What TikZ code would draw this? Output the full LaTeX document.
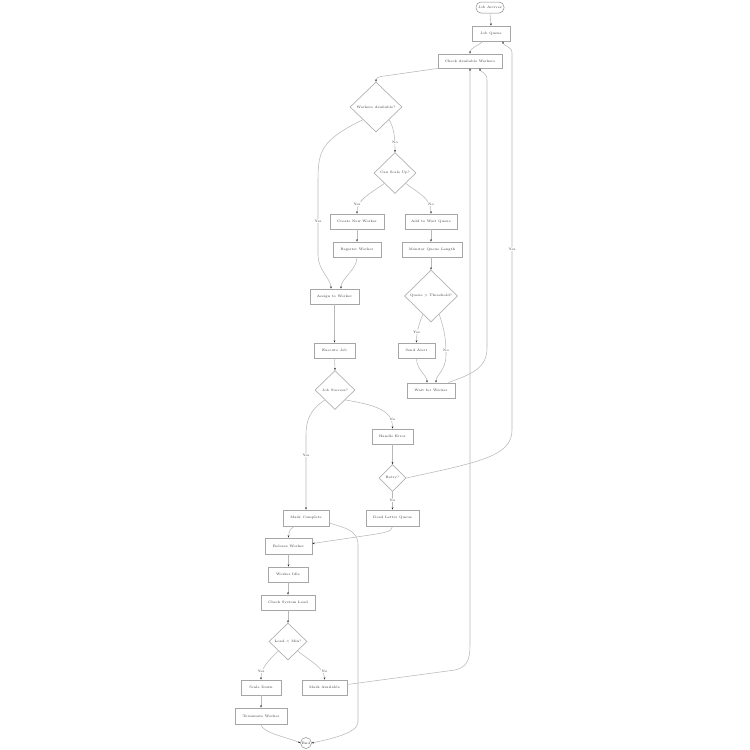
\documentclass[tikz,border=0pt]{standalone}
\usetikzlibrary{shapes.geometric,arrows.meta,calc}
\begin{document}
\begin{tikzpicture}[x=1pt,y=-1pt,
  every node/.style={font=\fontsize{3.4}{4.2}\selectfont, text=black!80, inner sep=0.5pt},
  box/.style={draw=black!35, line width=0.9pt, fill=white, rectangle},
  dia/.style={draw=black!30, line width=0.7pt, fill=white, diamond, aspect=1},
  term/.style={draw=black!45, line width=0.5pt, fill=white, rounded corners=5pt},
  conn/.style={draw=black!28, line width=0.55pt, -{Stealth[length=2.2pt,width=1.8pt,black!85]}},
  lbl/.style={fill=white, inner sep=0.6pt}]
\useasboundingbox (0,0) rectangle (750,750);
% nodes
\node[term, minimum width=28pt, minimum height=11pt] (JA) at (490,7.5) {Job Arrives};
\node[box, minimum width=38pt, minimum height=15pt] (JQ) at (491,33.5) {Job Queue};
\node[box, minimum width=64pt, minimum height=14pt] (CAW) at (470,61) {Check Available Workers};
\node[dia, minimum width=52pt, minimum height=50pt] (WA) at (376,107) {Workers Available?};
\node[dia, minimum width=42pt, minimum height=41pt] (CSU) at (395,173) {Can Scale Up?};
\node[box, minimum width=54pt, minimum height=15pt] (CNW) at (357,221.5) {Create New Worker};
\node[box, minimum width=52pt, minimum height=15pt] (AWQ) at (431,221.5) {Add to Wait Queue};
\node[box, minimum width=48pt, minimum height=15pt] (RW) at (357,249.5) {Register Worker};
\node[box, minimum width=60pt, minimum height=15pt] (MQL) at (432,249.5) {Monitor Queue Length};
\node[dia, minimum width=53pt, minimum height=52pt] (QT) at (431,296) {Queue > Threshold?};
\node[box, minimum width=49pt, minimum height=15pt] (ATW) at (334.5,296.5) {Assign to Worker};
\node[box, minimum width=41pt, minimum height=15pt] (EJ) at (334.5,350.5) {Execute Job};
\node[box, minimum width=37pt, minimum height=15pt] (SA) at (416.5,350.5) {Send Alert};
\node[box, minimum width=48pt, minimum height=15pt] (WFW) at (431,390.5) {Wait for Worker};
\node[dia, minimum width=40pt, minimum height=39pt] (JS) at (335,390) {Job Success?};
\node[box, minimum width=41pt, minimum height=15pt] (HE) at (392.5,436.5) {Handle Error};
\node[dia, minimum width=27pt, minimum height=27pt] (RT) at (392.5,478) {Retry?};
\node[box, minimum width=53pt, minimum height=16pt] (DLQ) at (392.5,518) {Dead Letter Queue};
\node[box, minimum width=46pt, minimum height=16pt] (MC) at (306,518) {Mark Complete};
\node[box, minimum width=47pt, minimum height=16pt] (RelW) at (288.5,546) {Release Worker};
\node[box, minimum width=40pt, minimum height=15pt] (WI) at (288,574.5) {Worker Idle};
\node[box, minimum width=54pt, minimum height=15pt] (CSL) at (288,602.5) {Check System Load};
\node[dia, minimum width=38pt, minimum height=37pt] (LM) at (288,641.5) {Load < Min?};
\node[box, minimum width=40pt, minimum height=15pt] (SD) at (261,687.5) {Scale Down};
\node[box, minimum width=45pt, minimum height=15pt] (MA) at (324.5,687.5) {Mark Available};
\node[box, minimum width=52pt, minimum height=16pt] (TW) at (261,716) {Terminate Worker};
\node[draw=black!45, line width=0.5pt, fill=white, circle, minimum size=11pt, inner sep=0pt] (End) at (306,743) {End};
% connectors
\draw[conn] (JA.south) -- (JQ.north);
\draw[conn] ($(JQ.south)+(-8,0)$) .. controls (478,46) and (470,48) .. (CAW.north);
\draw[conn] (CAW.south west) -- (381,76.5) .. controls (377,77.3) and (376,79) .. (WA.north);
\draw[conn] (WA.south east) .. controls (393,127) and (395,133) .. (CSU.north);
\draw[conn] (WA.south west) .. controls (322,140) and (318,150) .. (318,180) -- (318,255) .. controls (318,270) and (331,279) .. ($(ATW.north)+(-3.5,0)$);
\draw[conn] (CSU.south west) .. controls (368,195) and (357,200) .. (CNW.north);
\draw[conn] (CSU.south east) .. controls (422,195) and (431,200) .. (AWQ.north);
\draw[conn] (CNW.south) -- (RW.north);
\draw[conn] (RW.south) .. controls (357,270) and (341,278) .. ($(ATW.north)+(6.5,0)$);
\draw[conn] (AWQ.south) -- ($(MQL.north)+(-1,0)$);
\draw[conn] ($(MQL.south)+(-1,0)$) -- (QT.north);
\draw[conn] (QT.246) .. controls (418,326) and (416.5,334) .. (SA.north);
\draw[conn] (QT.294) .. controls (444,328) and (446,338) .. (446,355) .. controls (446,370) and (436,375) .. ($(WFW.north)+(5,0)$);
\draw[conn] (SA.south) .. controls (416.5,370) and (427,375) .. ($(WFW.north)+(-4,0)$);
\draw[conn] ($(WFW.north east)+(-7,0)$) .. controls (472,374) and (487,368) .. (487,348) -- (487,80) .. controls (487,72) and (480,72) .. ($(CAW.south)+(10,0)$);
\draw[conn] (ATW.south) -- (EJ.south |- EJ.north);
\draw[conn] (EJ.south) -- (JS.north);
\draw[conn] (JS.south east) .. controls (375,405) and (392.5,410) .. (HE.north);
\draw[conn] (JS.south west) .. controls (310,410) and (306,420) .. (306,435) -- (MC.north);
\draw[conn] (HE.south) -- (RT.north);
\draw[conn] (RT.east) .. controls (480,462) and (512,456) .. (512,430) -- (512,53) .. controls (512,46) and (503,46) .. ($(JQ.south)+(12,0)$);
\draw[conn] (RT.south) -- (DLQ.north);
\draw[conn] (DLQ.south) .. controls (392.5,532) and (382,533) .. (370,535) -- ($(RelW.east)+(0,-2.5)$);
\draw[conn] ($(MC.south)+(-12,0)$) .. controls (289,530) and (288.5,533) .. (RelW.north);
\draw[conn] ($(MC.east)+(0,5)$) .. controls (345,528) and (358,530) .. (358,545) -- (358,722) .. controls (358,734) and (325,740) .. (End.east);
\draw[conn] (RelW.south) -- ($(WI.north)+(0.5,0)$);
\draw[conn] (WI.south) -- (CSL.north);
\draw[conn] (CSL.south) -- (LM.north);
\draw[conn] (LM.south west) .. controls (268,661) and (261,668) .. (SD.north);
\draw[conn] (LM.south east) .. controls (310,661) and (324.5,668) .. (MA.north);
\draw[conn] (SD.south) -- (TW.north);
\draw[conn] (TW.south) .. controls (262,733) and (290,738) .. (End.west);
\draw[conn] ($(MA.east)+(0,-3)$) -- (455,670) .. controls (467,667) and (470,660) .. (470,645) -- (CAW.south);
% labels
\node[lbl] (lNo1) at (395,142) {No};
\node[lbl] (lYes1) at (318,221) {Yes};
\node[lbl] (lYes2) at (357,204) {Yes};
\node[lbl] (lNo2) at (431,204) {No};
\node[lbl] (lYes3) at (416.5,332) {Yes};
\node[lbl] (lNo3) at (446,350) {No};
\node[lbl] (lNo4) at (392.5,419) {No};
\node[lbl] (lYes4) at (306,455) {Yes};
\node[lbl] (lYes5) at (512,249) {Yes};
\node[lbl] (lNo5) at (392.5,500) {No};
\node[lbl] (lYes6) at (261,671) {Yes};
\node[lbl] (lNo6) at (324.5,671) {No};
\end{tikzpicture}
\end{document}
